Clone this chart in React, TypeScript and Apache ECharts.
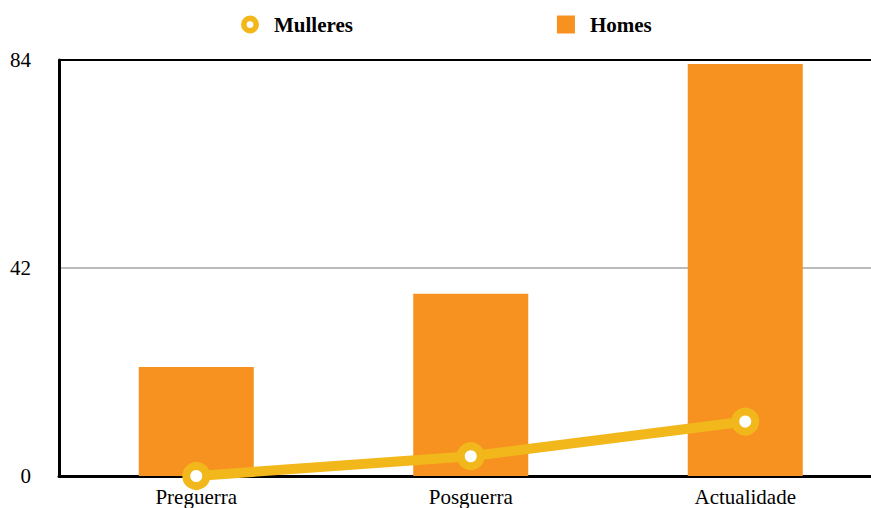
import React, { useEffect, useRef } from "react";
import * as echarts from "echarts";

const categories = ["Preguerra", "Posguerra", "Actualidade"];
const mulleres = [0, 4, 11];
const homes = [22, 36.8, 83.2];
const yTicks = [0, 42, 84];

const FONT = "Liberation Serif";
const RING = "path://M8,0A8,8,0,1,1,8,16A8,8,0,1,1,8,0ZM8,5A3,3,0,1,0,8,11A3,3,0,1,0,8,5Z";

export default function App() {
  const ref = useRef<HTMLDivElement>(null);
  useEffect(() => {
    if (!ref.current) return;
    const chart = echarts.init(ref.current, undefined, { renderer: "svg" });
    chart.setOption({
      animation: false,
      legend: {
        top: 9,
        left: 236,
        itemGap: 204,
        itemWidth: 18,
        itemHeight: 18,
        textStyle: {
          fontFamily: FONT,
          fontWeight: "bold",
          fontSize: 21,
          color: "#000",
          padding: [0, 0, 0, 10],
        },
        data: [
          { name: "Mulleres", icon: RING, itemStyle: { color: "#F2B71A", borderWidth: 0 } },
          { name: "Homes", icon: "rect" },
        ],
      },
      grid: { left: 59, right: 7.5, top: 60, bottom: 32, containLabel: false },
      xAxis: {
        type: "category",
        data: categories,
        axisLine: { show: true, lineStyle: { color: "#000", width: 3 } },
        axisTick: { show: false },
        axisLabel: { fontFamily: FONT, fontSize: 21, color: "#000", margin: 10 },
      },
      yAxis: {
        type: "value",
        min: yTicks[0],
        max: yTicks[yTicks.length - 1],
        interval: 42,
        axisLine: { show: true, lineStyle: { color: "#000", width: 3 } },
        axisTick: { show: false },
        axisLabel: { fontFamily: FONT, fontSize: 21, color: "#000", margin: 28 },
        splitLine: { show: true, lineStyle: { color: ["#000", "#bbb", "#000"], width: 2 } },
      },
      series: [
        {
          name: "Mulleres",
          type: "line",
          data: mulleres,
          z: 3,
          lineStyle: { color: "#F2B71A", width: 10 },
          symbol: "circle",
          symbolSize: 20,
          itemStyle: { color: "#fff", borderColor: "#F2B71A", borderWidth: 8 },
        },
        {
          name: "Homes",
          type: "bar",
          data: homes,
          barWidth: 115,
          z: 2,
          itemStyle: { color: "#F7911F" },
        },
      ],
    });
    return () => chart.dispose();
  }, []);
  return (
    <div style={{ position: "fixed", left: 0, top: 0, width: 871, height: 508, overflow: "hidden", background: "#fff" }}>
      <div ref={ref} style={{ width: 890, height: 508 }} />
    </div>
  );
}
